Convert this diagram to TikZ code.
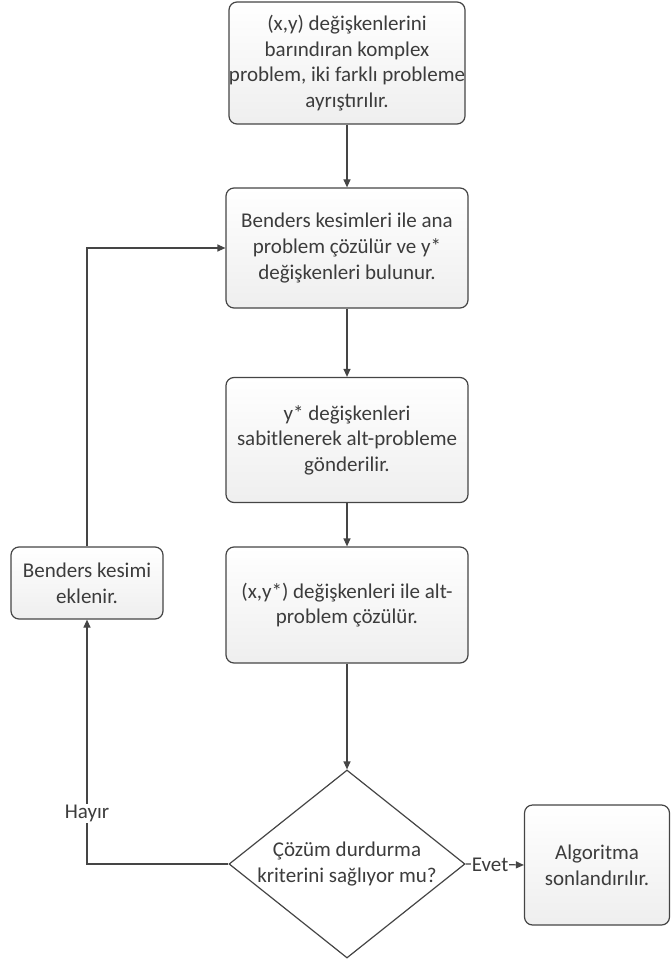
\documentclass[tikz,border=0pt]{standalone}
\usepackage{fontspec}
\setmainfont{Carlito}
\usetikzlibrary{arrows.meta, shapes.geometric}

\definecolor{linegray}{HTML}{454545}
\definecolor{textgray}{HTML}{3C3C3C}

\begin{document}
\begin{tikzpicture}[
    x=1pt, y=-1pt,
    box/.style={draw=linegray, line width=1.2pt, rounded corners=8pt, top color=white, bottom color=gray!13, align=center, text=textgray, font=\fontsize{21}{25.6}\selectfont, inner sep=0pt},
    decision/.style={draw=linegray, line width=1.2pt, diamond, aspect=1.255, fill=white, align=center, text=textgray, font=\fontsize{21}{25.6}\selectfont, inner sep=0pt},
    lbl/.style={fill=white, text=textgray, font=\fontsize{21}{25.6}\selectfont, inner sep=1pt},
    >={Triangle[length=8pt, width=7pt]}
]
\useasboundingbox (0,0) rectangle (671,965);

\node[box, minimum width=232pt, minimum height=122pt] (split) at (347,63) {(x,y) değişkenlerini\\barındıran komplex\\problem, iki farklı probleme\\ayrıştırılır.};
\node[box, minimum width=242pt, minimum height=120pt] (master) at (347,248) {Benders kesimleri ile ana\\problem çözülür ve y*\\değişkenleri bulunur.};
\node[box, minimum width=242pt, minimum height=125pt] (fix) at (347,440) {y* değişkenleri\\sabitlenerek alt-probleme\\gönderilir.};
\node[box, minimum width=242pt, minimum height=116pt] (sub) at (347,605) {(x,y*) değişkenleri ile alt-\\problem çözülür.};
\node[decision, minimum width=236pt, minimum height=188pt] (stop) at (347,864) {Çözüm durdurma\\kriterini sağlıyor mu?};
\node[box, minimum width=145pt, minimum height=120pt] (end) at (597,865) {Algoritma\\sonlandırılır.};
\node[box, minimum width=152pt, minimum height=72pt] (cut) at (87,583) {Benders kesimi\\eklenir.};

\draw[->, draw=linegray, line width=1.2pt] (split) -- (master);
\draw[->, draw=linegray, line width=1.2pt] (master) -- (fix);
\draw[->, draw=linegray, line width=1.2pt] (fix) -- (sub);
\draw[->, draw=linegray, line width=1.2pt] (sub) -- (stop);
\draw[->, draw=linegray, line width=1.2pt] (stop.east) -- node[lbl, pos=0.42]{Evet} (end.west);
\draw[->, draw=linegray, line width=1.2pt] (stop.west) -| node[lbl, pos=0.604]{Hayır} (cut.south);
\draw[->, draw=linegray, line width=1.2pt] (cut.north) |- (master.west);
\end{tikzpicture}
\end{document}
